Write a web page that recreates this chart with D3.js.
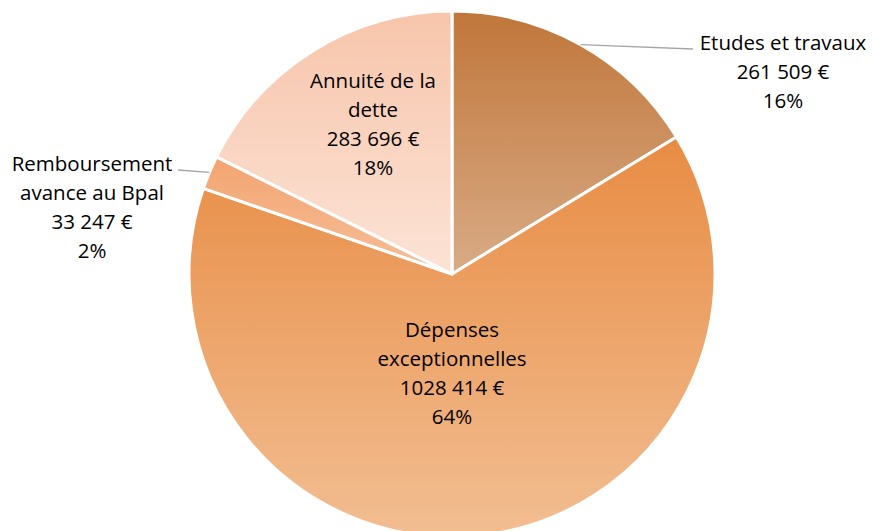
<!DOCTYPE html>
<html>
<head>
<meta charset="utf-8">
<script src="https://cdn.jsdelivr.net/npm/d3@7"></script>
<style>
  html, body { margin: 0; padding: 0; background: #fff; }
  svg { display: block; }
  text { font-family: "Open Sans", Lato, sans-serif; fill: #000; }
</style>
</head>
<body>
<div id="chart"></div>
<script>
// chart values
const categories = ["Etudes et travaux", "Dépenses exceptionnelles", "Remboursement avance au Bpal", "Annuité de la dette"];
const amounts = [261509, 1028414, 33247, 283696];
// label lines as wrapped in the original
const labelLines = [["Etudes et travaux"], ["Dépenses", "exceptionnelles"], ["Remboursement", "avance au Bpal"], ["Annuité de la", "dette"]];

// slice gradients (top -> bottom)
const topColors = ["#c0763a", "#e88c44", "#f3a470", "#f7c5ab"];
const bottomColors = ["#d9ab86", "#f2be92", "#f6bf99", "#fce3d6"];

const width = 872, height = 531;
const cx = 452, cy = 274, radius = 263;

const svg = d3.select("#chart").append("svg")
  .attr("width", width)
  .attr("height", height);

const defs = svg.append("defs");
categories.forEach((c, i) => {
  const g = defs.append("linearGradient")
    .attr("id", "grad" + i)
    .attr("x1", 0).attr("y1", 0).attr("x2", 0).attr("y2", 1);
  g.append("stop").attr("offset", "0%").attr("stop-color", topColors[i]);
  g.append("stop").attr("offset", "100%").attr("stop-color", bottomColors[i]);
});

const data = categories.map((c, i) => ({ name: c, value: amounts[i], lines: labelLines[i], i }));
const total = d3.sum(amounts);

const pie = d3.pie().sort(null).value(d => d.value);
const arcs = pie(data);
const arc = d3.arc().innerRadius(0).outerRadius(radius);

const g = svg.append("g").attr("transform", `translate(${cx},${cy})`);

g.selectAll("path.slice")
  .data(arcs)
  .enter()
  .append("path")
  .attr("class", "slice")
  .attr("d", arc)
  .attr("fill", d => `url(#grad${d.data.i})`)
  .attr("stroke", "#fff")
  .attr("stroke-width", 3)
  .attr("stroke-linejoin", "round");

// 1028414 -> "1028 414 €"
function fmtEuro(v) {
  const s = String(v);
  return s.slice(0, -3) + " " + s.slice(-3) + " €";
}
const fmtPct = d3.format(".0%");

// label placement: offset from pie centre (inside) or outside with leader
const lineH = 29;
const placement = [
  { x: 331, y: -202, outside: true, leaderTo: [241, -225] },
  { x: 0, y: 99 },
  { x: -360, y: -67, outside: true, leaderTo: [-274, -104] },
  { x: -79, y: -150 }
];

arcs.forEach((a, k) => {
  const p = placement[k];
  const lines = a.data.lines.concat([fmtEuro(a.data.value), fmtPct(a.data.value / total)]);
  const n = lines.length;
  const t = g.append("text")
    .attr("text-anchor", "middle")
    .attr("font-size", 20.5);
  lines.forEach((l, j) => {
    t.append("tspan")
      .attr("x", p.x)
      .attr("y", p.y + (j - (n - 1) / 2) * lineH)
      .attr("dy", "0.35em")
      .text(l);
  });

  if (p.outside) {
    const mid = (a.startAngle + a.endAngle) / 2;
    const start = [Math.sin(mid) * radius, -Math.cos(mid) * radius];
    g.append("path")
      .attr("d", d3.line()([start, p.leaderTo]))
      .attr("fill", "none")
      .attr("stroke", "#a6a6a6")
      .attr("stroke-width", 1.3);
  }
});
</script>
</body>
</html>
